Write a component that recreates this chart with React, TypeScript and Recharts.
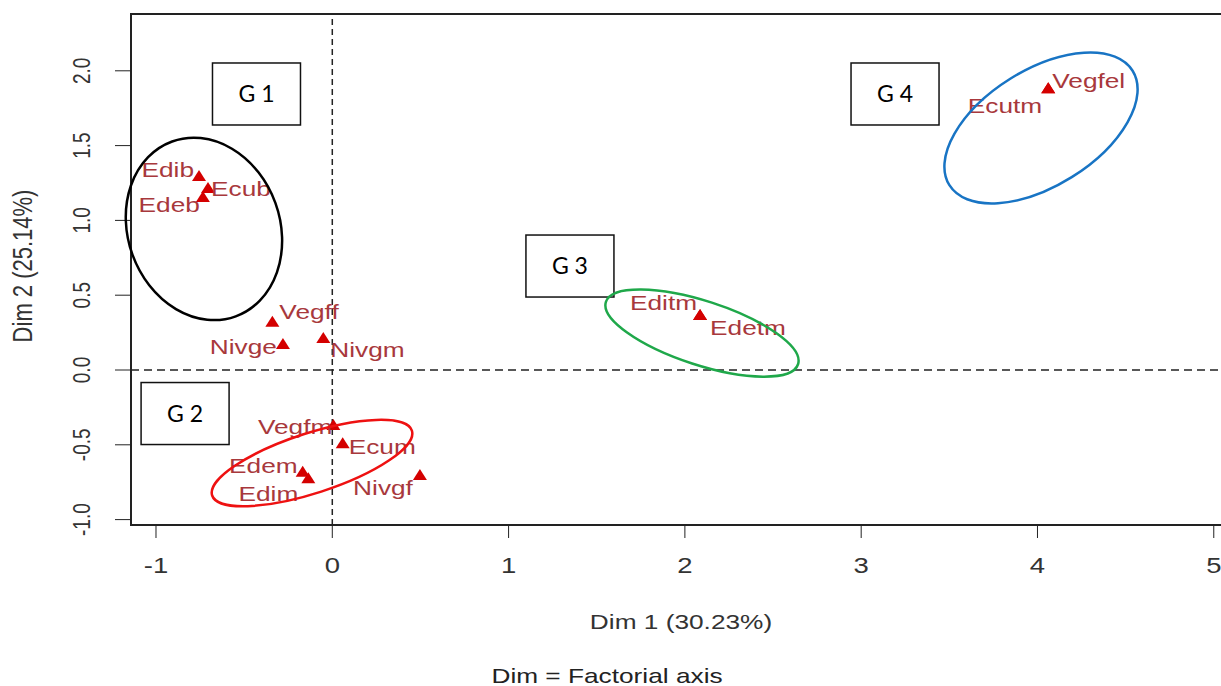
import React from "react";
import {
  ScatterChart,
  Scatter,
  XAxis,
  YAxis,
  ReferenceLine,
  ReferenceArea,
  ReferenceDot,
} from "recharts";

// points of the factorial plane
const pointNames = [
  "Edib", "Ecub", "Edeb", "Vegff", "Nivge", "Nivgm", "Vegfm", "Ecum",
  "Edem", "Edim", "Nivgf", "Editm", "Edetm", "Vegfel", "Ecutm",
];
const dim1 = [
  -0.756, -0.705, -0.734, -0.34, -0.28, -0.051, 0.006, 0.059,
  -0.168, -0.136, 0.497, 2.086, 2.086, 4.061, 4.061,
];
const dim2 = [
  1.297, 1.217, 1.156, 0.323, 0.174, 0.214, -0.368, -0.49,
  -0.68, -0.724, -0.702, 0.368, 0.368, 1.883, 1.883,
];

const xTicks = [-1, 0, 1, 2, 3, 4, 5];
const yTicks = [-1, -0.5, 0, 0.5, 1, 1.5, 2];

// group annotations: label box and ellipse centres, in plot units
const groupNames = ["G 1", "G 2", "G 3", "G 4"];
const boxDim1 = [-0.43, -0.835, 1.348, 3.192];
const boxDim2 = [1.845, -0.291, 0.695, 1.845];
const ellipseDim1 = [-0.728, -0.115, 2.097, 4.02];
const ellipseDim2 = [0.943, -0.622, 0.247, 1.618];

// the frame runs past the right edge of the picture
const X_MIN = -1.1418;
const X_MAX = 5.058;
const Y_MIN = -1.0361;
const Y_MAX = 2.3797;

const FONT = "'Liberation Sans', Arial, sans-serif";
const SX = 1.25; // the source picture is stretched sideways
const LABEL_COLOR = "#a8383c";
const MARK_COLOR = "#d40000";

const ellipseStyle = [
  { rx: 76, ry: 93, angle: -20, color: "#000000" },
  { rx: 105, ry: 30, angle: -18, color: "#ee1111" },
  { rx: 101, ry: 32, angle: 18, color: "#1fa84a" },
  { rx: 108, ry: 58, angle: -32, color: "#1874c4" },
];

// where each label sits next to its triangle (pixels)
const labelPlace: Record<string, { anchor: "start" | "end"; dx: number; dy: number }> = {
  Edib: { anchor: "end", dx: -5, dy: -6 },
  Ecub: { anchor: "start", dx: 3, dy: 1 },
  Edeb: { anchor: "end", dx: -3, dy: 7 },
  Vegff: { anchor: "start", dx: 7, dy: -10 },
  Nivge: { anchor: "end", dx: -6, dy: 3 },
  Nivgm: { anchor: "start", dx: 7, dy: 12 },
  Vegfm: { anchor: "end", dx: -1, dy: 1 },
  Ecum: { anchor: "start", dx: 6, dy: 3 },
  Edem: { anchor: "end", dx: -5, dy: -6 },
  Edim: { anchor: "end", dx: -10, dy: 15 },
  Nivgf: { anchor: "end", dx: -7, dy: 12 },
  Editm: { anchor: "end", dx: -3, dy: -12 },
  Edetm: { anchor: "start", dx: 10, dy: 13 },
  Vegfel: { anchor: "start", dx: 4, dy: -8 },
  Ecutm: { anchor: "end", dx: -6, dy: 17 },
};

const points = pointNames.map((name, i) => ({ name, x: dim1[i], y: dim2[i] }));

function StretchText({
  x, y, size, fill = "#222", anchor = "middle", rotate, children,
}: {
  x: number; y: number; size: number; fill?: string;
  anchor?: "start" | "middle" | "end"; rotate?: number; children: React.ReactNode;
}) {
  const rot = rotate ? ` rotate(${rotate})` : "";
  return (
    <text
      transform={`translate(${x},${y}) scale(${SX},1)${rot}`}
      textAnchor={anchor}
      fontSize={size}
      fontFamily={FONT}
      fill={fill}
    >
      {children}
    </text>
  );
}

const XTick = (props: any) => {
  const { x, payload } = props;
  return (
    <StretchText x={x} y={573} size={22} fill="#333">
      {String(payload.value)}
    </StretchText>
  );
};

const YTick = (props: any) => {
  const { y, payload } = props;
  return (
    <StretchText x={90} y={y} size={19} fill="#333" rotate={-90}>
      {Number(payload.value).toFixed(1)}
    </StretchText>
  );
};

const PointShape = (props: any) => {
  const { cx, cy, payload } = props;
  const p = labelPlace[payload.name];
  return (
    <g>
      <polygon
        points={`${cx},${cy - 6} ${cx - 7},${cy + 5} ${cx + 7},${cy + 5}`}
        fill={MARK_COLOR}
      />
      <StretchText
        x={cx + p.dx}
        y={cy + p.dy + 7.5}
        size={21}
        fill={LABEL_COLOR}
        anchor={p.anchor}
      >
        {payload.name}
      </StretchText>
    </g>
  );
};

const AxisTitles = () => (
  <g>
    <StretchText x={681} y={629} size={21} fill="#333">
      Dim 1 (30.23%)
    </StretchText>
    <StretchText x={607} y={683} size={21} fill="#222">
      Dim = Factorial axis
    </StretchText>
  </g>
);

export default function App() {
  return (
    <div
      style={{
        position: "absolute",
        left: 0,
        top: 0,
        width: 1221,
        height: 686,
        background: "#fff",
        overflow: "hidden",
      }}
    >
      <ScatterChart
        width={1224}
        height={686}
        margin={{ top: 14, right: 0, bottom: 0, left: 0 }}
      >
        <XAxis
          type="number"
          dataKey="x"
          domain={[X_MIN, X_MAX]}
          ticks={xTicks}
          interval={0}
          allowDataOverflow
          axisLine={false}
          tickSize={13}
          stroke="#222"
          height={161}
          tick={<XTick />}
          label={{ content: () => <AxisTitles /> }}
        />
        <YAxis
          type="number"
          dataKey="y"
          domain={[Y_MIN, Y_MAX]}
          ticks={yTicks}
          interval={0}
          allowDataOverflow
          axisLine={false}
          tickSize={16}
          stroke="#222"
          width={131}
          tick={<YTick />}
          label={{
            content: () => (
              <StretchText x={32} y={266} size={22} fill="#333" rotate={-90}>
                Dim 2 (25.14%)
              </StretchText>
            ),
          }}
        />
        <ReferenceArea
          x1={X_MIN}
          x2={X_MAX}
          y1={Y_MIN}
          y2={Y_MAX}
          fill="none"
          stroke="#222"
          strokeWidth={2}
        />
        <ReferenceLine x={0} stroke="#222" strokeWidth={1.5} strokeDasharray="6 4" />
        <ReferenceLine y={0} stroke="#222" strokeWidth={1.5} strokeDasharray="8 5" />
        <Scatter
          data={points}
          isAnimationActive={false}
          shape={(props: any) => <PointShape {...props} />}
        />
        {groupNames.map((g, i) => (
          <ReferenceDot
            key={`box-${g}`}
            x={boxDim1[i]}
            y={boxDim2[i]}
            shape={(props: any) => (
              <g>
                <rect
                  x={props.cx - 44}
                  y={props.cy - 31}
                  width={88}
                  height={62}
                  fill="#fff"
                  stroke="#111"
                  strokeWidth={1.5}
                />
                <text
                  x={props.cx}
                  y={props.cy + 8}
                  textAnchor="middle"
                  fontSize={23}
                  fontFamily="Lato, 'Open Sans', sans-serif"
                  fill="#000"
                >
                  {g}
                </text>
              </g>
            )}
          />
        ))}
        {groupNames.map((g, i) => {
          const s = ellipseStyle[i];
          return (
            <ReferenceDot
              key={`ell-${g}`}
              x={ellipseDim1[i]}
              y={ellipseDim2[i]}
              shape={(props: any) => (
                <ellipse
                  cx={props.cx}
                  cy={props.cy}
                  rx={s.rx}
                  ry={s.ry}
                  transform={`rotate(${s.angle} ${props.cx} ${props.cy})`}
                  fill="none"
                  stroke={s.color}
                  strokeWidth={2.5}
                />
              )}
            />
          );
        })}
      </ScatterChart>
    </div>
  );
}
